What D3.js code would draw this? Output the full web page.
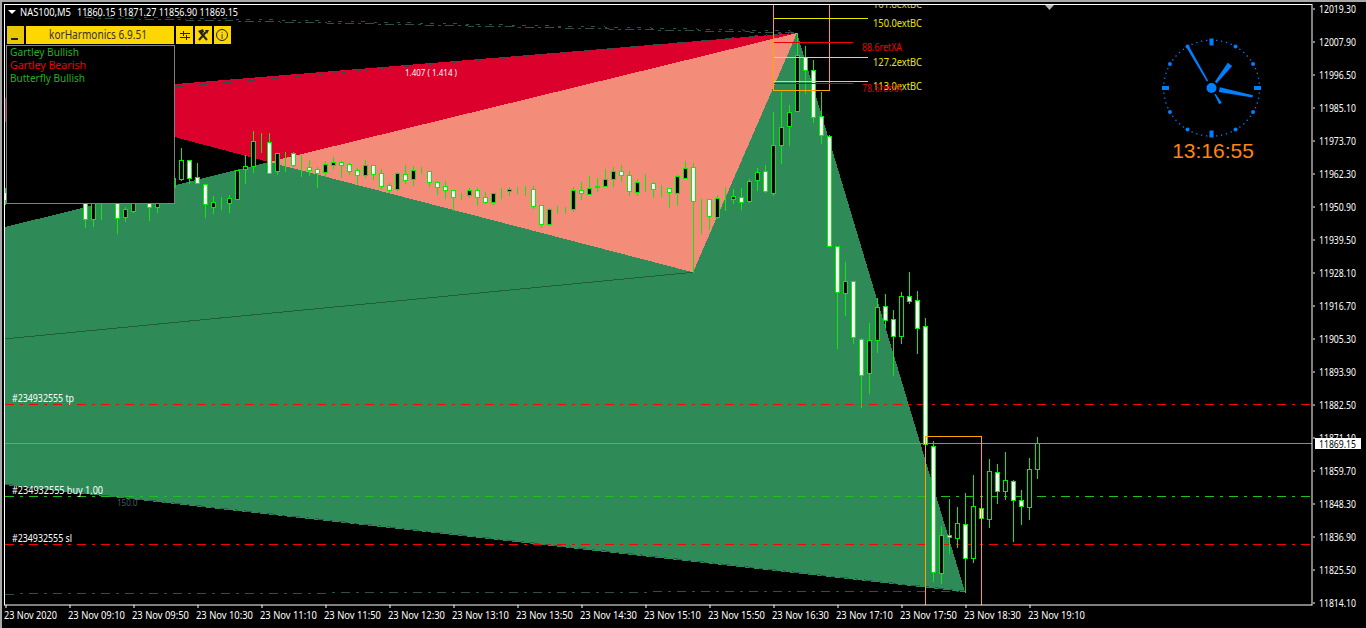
<!DOCTYPE html>
<html><head><meta charset="utf-8">
<script src="https://cdn.jsdelivr.net/npm/d3@7"></script>
<style>html,body{margin:0;padding:0;background:#000;overflow:hidden}svg{display:block}text{font-family:"Noto Sans","DejaVu Sans",sans-serif}</style>
</head><body><svg id="c" width="1366" height="628"></svg>
<script>
const opens=[11955.73,11958.15,11962.64,11956.42,11960.57,11957.81,11961.26,11957.11,11959.88,11954.7,11956.42,11946.41,11956.42,11953.66,11952.97,11947.1,11949.17,11956.42,11953.66,11950.55,11958.15,11957.46,11960.22,11966.79,11960.91,11958.5,11950.55,11952.28,11951.93,11953.31,11963.68,11964.72,11972.66,11973.0,11962.99,11969.2,11969.2,11964.37,11964.37,11963.68,11962.64,11965.06,11966.1,11965.41,11963.33,11961.6,11965.06,11962.3,11958.15,11956.77,11961.95,11960.22,11963.33,11962.99,11959.19,11957.81,11956.42,11954.35,11954.7,11956.42,11954.0,11952.28,11956.08,11956.08,11956.77,11957.11,11956.77,11951.24,11944.68,11949.86,11949.86,11949.86,11956.42,11955.04,11957.46,11957.81,11960.22,11962.99,11961.6,11955.73,11958.84,11958.84,11957.11,11957.11,11955.39,11960.57,11964.37,11953.31,11953.31,11947.1,11953.66,11953.31,11954.0,11952.62,11959.88,11962.99,11955.39,11971.97,11978.53,11983.71,12002.37,11997.88,11981.99,11975.08,11937.08,11920.84,11924.99,11904.95,11893.21,11904.61,11916.35,11911.86,11906.0,11919.81,11918.42,11909.44,11867.99,11824.11,11837.24,11836.21,11841.04,11829.29,11846.57,11842.77,11859.01,11852.44,11855.9,11849.33,11846.91,11860.15];
const closes=[11952.97,11961.6,11958.15,11959.88,11956.42,11961.26,11958.15,11959.88,11956.42,11958.15,11946.41,11954.7,11953.66,11956.42,11946.75,11949.86,11953.66,11953.66,11950.55,11952.97,11954.7,11960.57,11966.79,11960.57,11958.84,11951.59,11952.28,11952.28,11953.66,11963.33,11964.72,11973.35,11972.66,11962.3,11969.2,11969.2,11965.06,11964.37,11963.33,11962.3,11965.41,11966.1,11965.06,11962.99,11961.6,11965.06,11961.95,11957.81,11956.42,11962.3,11959.88,11963.33,11963.33,11959.19,11957.46,11956.42,11954.0,11954.35,11956.42,11954.0,11952.28,11955.39,11956.08,11956.77,11956.77,11957.11,11950.9,11944.68,11949.86,11949.86,11949.86,11956.42,11955.39,11957.11,11957.81,11960.22,11962.99,11961.6,11956.08,11959.19,11958.84,11956.77,11957.11,11955.73,11961.26,11964.02,11952.62,11953.31,11947.44,11953.66,11953.66,11954.35,11952.28,11959.53,11962.64,11956.08,11971.97,11978.19,11983.37,12003.06,11997.88,11981.64,11975.42,11937.08,11921.19,11924.99,11905.65,11892.51,11904.61,11916.01,11911.52,11906.0,11919.81,11918.08,11908.75,11868.68,11824.46,11837.24,11836.55,11841.39,11829.29,11847.26,11843.11,11859.35,11852.44,11856.24,11849.33,11847.26,11860.05,11869.15];
const highs=[11957.11,11963.33,11963.33,11961.6,11962.64,11963.33,11963.33,11961.6,11961.26,11959.88,11959.88,11956.42,11958.15,11958.15,11956.42,11950.55,11956.42,11958.15,11956.42,11954.7,11959.88,11961.6,11970.93,11966.79,11965.75,11958.5,11954.35,11954.0,11954.7,11963.33,11968.51,11976.81,11976.12,11976.12,11969.2,11969.55,11969.55,11968.51,11966.79,11964.37,11966.44,11967.82,11966.44,11965.75,11964.02,11966.79,11965.06,11963.68,11958.84,11962.64,11965.06,11964.72,11964.37,11962.99,11959.53,11959.53,11956.42,11955.39,11957.11,11957.11,11955.73,11955.39,11957.11,11957.46,11957.46,11957.81,11957.81,11951.24,11950.21,11950.9,11950.55,11957.46,11959.19,11961.26,11960.57,11963.68,11964.37,11965.06,11962.99,11960.22,11961.95,11959.19,11958.15,11957.11,11961.6,11966.44,11965.75,11953.31,11953.31,11954.7,11957.46,11956.77,11957.11,11960.22,11964.02,11965.06,11983.37,11990.28,11985.79,12010.66,12006.17,12001.33,11990.28,11975.42,11937.08,11931.55,11924.99,11905.3,11910.48,11919.12,11920.5,11914.97,11921.19,11928.0,11921.53,11912.2,11869.72,11840.35,11849.68,11846.91,11851.75,11857.97,11846.57,11863.5,11861.77,11865.92,11856.24,11852.79,11863.85,11871.27];
const lows=[11951.59,11954.7,11956.42,11952.97,11954.7,11954.7,11955.73,11953.66,11952.97,11952.97,11943.64,11943.99,11946.41,11952.28,11941.57,11945.72,11948.83,11951.93,11946.06,11948.83,11952.97,11956.42,11959.88,11958.84,11958.84,11947.1,11948.48,11949.86,11948.83,11953.31,11958.84,11962.64,11969.55,11962.3,11961.95,11962.99,11964.72,11961.26,11961.6,11957.46,11961.26,11964.02,11960.91,11961.95,11958.84,11960.91,11960.22,11957.11,11955.73,11956.42,11958.84,11958.15,11962.3,11957.81,11955.04,11953.66,11949.52,11953.31,11954.0,11951.24,11951.93,11951.59,11953.66,11954.7,11955.39,11954.7,11950.21,11943.64,11944.33,11948.48,11948.48,11949.17,11953.31,11955.04,11956.08,11957.81,11957.81,11959.53,11954.7,11954.7,11956.08,11953.96,11954.35,11950.55,11951.24,11960.57,11928.0,11941.57,11942.95,11946.75,11949.52,11951.93,11949.86,11952.28,11956.42,11955.73,11954.7,11965.75,11971.97,11983.71,11989.93,11979.91,11972.66,11937.08,11901.85,11913.24,11903.57,11881.46,11886.3,11900.46,11909.1,11892.51,11903.57,11917.39,11900.12,11868.68,11821.35,11820.66,11831.02,11833.1,11817.55,11827.91,11843.11,11840.01,11848.3,11849.68,11835.17,11841.04,11842.77,11856.90];

const yTicks=[12019.30,12007.90,11996.50,11985.10,11973.70,11962.30,11950.90,11939.50,11928.10,11916.70,11905.30,11893.90,11882.50,11871.10,11859.70,11848.30,11836.90,11825.50,11814.10];
const xTickBars=[0,8,16,24,32,40,48,56,64,72,80,88,96,104,112,120,128];
const xTickLabels=["23 Nov 2020","23 Nov 09:10","23 Nov 09:50","23 Nov 10:30","23 Nov 11:10","23 Nov 11:50","23 Nov 12:30","23 Nov 13:10","23 Nov 13:50","23 Nov 14:30","23 Nov 15:10","23 Nov 15:50","23 Nov 16:30","23 Nov 17:10","23 Nov 17:50","23 Nov 18:30","23 Nov 19:10"];

const greenBars=[0,33,86,99,120,120,0], greenPrices=[11943.64,11966.10,11928.0,12010.66,11817.55,11817.55,11854.5];
const redBars=[0,99,33,21.25,0], redPrices=[11988.2,12010.66,11966.10,11974.7,11979.9];
const salmonBars=[33,99,86], salmonPrices=[11966.10,12010.66,11928.0];
const orderLabels=["#234932555 tp","#234932555 buy 1.00","#234932555 sl"];
const orderPrices=[11882.50,11850.74,11834.17];
const orderColors=["#ff0000","#20c020","#ff0000"];
const fibNames=["161.8extBC","150.0extBC","88.6retXA","127.2extBC","113.0extBC","78.6retXA"];
const fibPrices=[12022.4,12015.84,12007.55,12002.37,11994.08,11993.39];
const fibColors=["#d8d800","#e8e800","#f00000","#e8e800","#e8e800","#d00000"];
const legendNames=["Gartley Bullish","Gartley Bearish","Butterfly Bullish"];
const legendColors=["#24b024","#f00000","#24b024"];
const clockTime=[13,16,55];

const svg=d3.select("#c");
const x=d3.scaleLinear().domain([0,129]).range([5,1037]);
const y=d3.scaleLinear().domain([11814.10,12019.30]).range([602,8]);
const X=i=>Math.round(x(i)), Y=p=>Math.round(y(p));
const font="'Noto Sans','DejaVu Sans',sans-serif";

svg.append("rect").attr("width",1366).attr("height",2).attr("fill","#a8a8a8");
svg.append("rect").attr("width",2).attr("height",628).attr("fill","#a8a8a8");

svg.append("defs").append("clipPath").attr("id","plot").append("rect").attr("x",5).attr("y",5).attr("width",1307).attr("height",600);
const plot=svg.append("g").attr("clip-path","url(#plot)");

const poly=(bars,prices,col)=>plot.append("polygon")
  .attr("points",bars.map((b,i)=>x(b)+","+y(prices[i])).join(" "))
  .attr("fill",col).attr("shape-rendering","crispEdges");
poly(redBars,redPrices,"#dc002d");
poly(salmonBars,salmonPrices,"#f48c7a");
poly(greenBars,greenPrices,"#2e8b57");

const trend=(b0,p0,b1,p1,col,dash)=>plot.append("line")
  .attr("x1",x(b0)).attr("y1",y(p0)).attr("x2",x(b1)).attr("y2",y(p1))
  .attr("stroke",col).attr("stroke-width",1).attr("stroke-dasharray",dash).attr("shape-rendering","crispEdges");
trend(0,11905.0,86,11928.0,"#1f5f3c","none");
trend(10,12015.9,99,12010.66,"#2f4f4f","9 4 3 4");
trend(10,12016.6,99,12011.3,"#2f4f4f","4 9 3 7");
trend(21.25,11992.0,99,12010.9,"#2f4f4f","9 6 3 6");
trend(0,11816.85,120,11817.9,"#2f4f4f","9 6 3 6");
trend(0,11854.8,120,11817.9,"#2a5a50","9 6 3 6");

plot.append("line").attr("x1",5).attr("x2",1312).attr("y1",Y(11869.15)+.5).attr("y2",Y(11869.15)+.5).attr("stroke","#8c8c8c");
orderPrices.forEach((p,i)=>{
  plot.append("line").attr("x1",5).attr("x2",1312).attr("y1",Y(p)+.5).attr("y2",Y(p)+.5)
    .attr("stroke",orderColors[i]).attr("stroke-dasharray","9 6 3 6");
  plot.append("text").attr("x",12).attr("y",Y(p)-2).attr("fill","#fff").attr("font-size",11)
    .attr("textLength",[62,91,60][i]).attr("lengthAdjust","spacingAndGlyphs").text(orderLabels[i]);
});

plot.append("text").attr("x",405).attr("y",76).attr("fill","#fff").attr("font-size",8).text("1.407 ( 1.414 )");
plot.append("text").attr("x",117).attr("y",506).attr("fill","#4d5d5d").attr("font-size",8).text("150.0");

const candles=d3.range(opens.length).map(i=>({i,o:opens[i],h:highs[i],l:lows[i],c:closes[i]}));
const cg=plot.append("g").attr("shape-rendering","crispEdges");
cg.selectAll(".w").data(candles).join("line").attr("class","w")
  .attr("x1",d=>X(d.i)+.5).attr("x2",d=>X(d.i)+.5).attr("y1",d=>Y(d.h)).attr("y2",d=>Y(d.l)+1).attr("stroke","#14e614");
cg.selectAll(".b").data(candles).join("rect").attr("class","b")
  .attr("x",d=>X(d.i)-1.5).attr("width",4)
  .attr("y",d=>Math.min(Y(d.o),Y(d.c))+.5)
  .attr("height",d=>Math.abs(Y(d.o)-Y(d.c)))
  .attr("fill",d=>d.c>d.o?"#000":"#fff").attr("stroke","#00f000").attr("stroke-width",1);

const box=(b0,b1,p0,p1)=>plot.append("rect").attr("x",X(b0)+.5).attr("width",X(b1)-X(b0))
  .attr("y",Y(p0)+.5).attr("height",Y(p1)-Y(p0)).attr("fill","none").attr("stroke","#ffa500").attr("stroke-width",1);
box(96,103,12028.0,11991.0);
box(115,122,11871.6,11812.5);
fibNames.forEach((n,i)=>{
  const red=n.includes("ret");
  plot.append("line").attr("x1",774).attr("x2",red?853:868).attr("y1",Y(fibPrices[i])+.5).attr("y2",Y(fibPrices[i])+.5).attr("stroke",fibColors[i]);
  plot.append("text").attr("x",red?862:873).attr("y",Y(fibPrices[i])+9).attr("fill",fibColors[i]).attr("font-size",11)
    .attr("textLength",red?40:49).attr("lengthAdjust","spacingAndGlyphs").text(n);
});
plot.append("path").attr("d",d3.line()([[1045,5],[1054,5],[1049.5,10]])+"Z").attr("fill","#b4b4b4");

svg.append("rect").attr("x",4.5).attr("y",4.5).attr("width",1307.5).attr("height",600.5).attr("fill","none").attr("stroke","#fff");

const yAxis=svg.append("g").attr("transform","translate(1312,0.5)")
  .call(d3.axisRight(y).tickValues(yTicks).tickSize(3).tickFormat(d3.format(".2f")));
yAxis.select(".domain").remove();
yAxis.selectAll("line").attr("stroke","#fff").attr("x1",1);
yAxis.selectAll("text").attr("x",7).attr("fill","#fff").attr("font-size",11).attr("font-family",font)
  .attr("textLength",37).attr("lengthAdjust","spacingAndGlyphs");
const xAxis=svg.append("g").attr("transform","translate(0.5,605)")
  .call(d3.axisBottom(x).tickValues(xTickBars).tickSize(3).tickFormat((d,i)=>xTickLabels[i]));
xAxis.select(".domain").remove();
xAxis.selectAll("line").attr("stroke","#fff");
xAxis.selectAll("text").attr("text-anchor","start").attr("x",-2).attr("y",6).attr("fill","#fff").attr("font-size",11).attr("font-family",font)
  .attr("textLength",(d,i)=>i?57:53).attr("lengthAdjust","spacingAndGlyphs");
svg.append("rect").attr("x",1315).attr("y",438).attr("width",46).attr("height",11).attr("fill","#fff");
svg.append("text").attr("x",1319).attr("y",447.5).attr("fill","#000").attr("font-size",11).attr("textLength",37).attr("lengthAdjust","spacingAndGlyphs").text(d3.format(".2f")(closes[129]));

svg.append("path").attr("d","M8 10H16L12 14Z").attr("fill","#fff");
svg.append("text").attr("x",20).attr("y",16).attr("fill","#fff").attr("font-size",11).attr("textLength",51).attr("lengthAdjust","spacingAndGlyphs").text("NAS100,M5");
svg.append("text").attr("x",77).attr("y",16).attr("fill","#fff").attr("font-size",11).attr("textLength",161).attr("lengthAdjust","spacingAndGlyphs")
  .text([opens[129],highs[129],lows[129],closes[129]].map(d3.format(".2f")).join(" "));

const btn=(x0,w,col)=>svg.append("rect").attr("x",x0).attr("y",26).attr("width",w).attr("height",18).attr("fill",col);
btn(7,17,"#e8c800");btn(26,148,"#ffd700");btn(176,17,"#ffd700");btn(195,17,"#ffd700");btn(214,17,"#ffd700");
svg.append("rect").attr("x",11).attr("y",38).attr("width",7).attr("height",2).attr("fill","#222");
svg.append("text").attr("x",98).attr("y",39).attr("text-anchor","middle").attr("fill","#333").attr("font-size",12)
  .attr("textLength",98).attr("lengthAdjust","spacingAndGlyphs").text("korHarmonics 6.9.51");
svg.append("path").attr("d","M180 33.5H190M180 37.5H190M183.5 31V36M186.5 35V40").attr("stroke","#222").attr("fill","none");
svg.append("path").attr("d","M199 40L206 32M200 32L207 40").attr("stroke","#222").attr("stroke-width",2).attr("fill","none");
svg.append("path").attr("d","M198 31L203 29L204 32L201 34ZM205 30L209 30L207 34Z").attr("fill","#222");
svg.append("circle").attr("cx",222).attr("cy",35).attr("r",5.5).attr("fill","none").attr("stroke","#222");
svg.append("text").attr("x",222).attr("y",38.5).attr("text-anchor","middle").attr("font-size",9).attr("fill","#222").text("i");
svg.append("rect").attr("x",6.5).attr("y",45.5).attr("width",168).attr("height",158).attr("fill","#000").attr("stroke","#808080");
legendNames.forEach((n,i)=>svg.append("text").attr("x",10).attr("y",56+13*i).attr("fill",legendColors[i]).attr("font-size",11.5)
  .attr("textLength",[69,76,75][i]).attr("lengthAdjust","spacingAndGlyphs").text(n));

const cx=1211.5,cy=88,blue="#0080ff";
const clock=svg.append("g").attr("transform",`translate(${cx},${cy})`);
const ang=d3.scaleLinear().domain([0,60]).range([0,2*Math.PI]);
const pt=(a,r)=>[r*Math.sin(a),-r*Math.cos(a)];
d3.range(60).forEach(m=>{
  const p=pt(ang(m),m%15==0?46:48);
  if(m%15==0){const big=m%30==0;clock.append("rect").attr("x",p[0]-(big?2:3.5)).attr("y",p[1]-(big?3.5:2)).attr("width",big?4:7).attr("height",big?7:4).attr("fill",blue);}
  else if(m%5==0){clock.append("circle").attr("cx",p[0]).attr("cy",p[1]).attr("r",2).attr("fill",blue);}
  else clock.append("rect").attr("x",p[0]-.5).attr("y",p[1]-.5).attr("width",1.3).attr("height",1.3).attr("fill",blue);
});
const hand=(a,r0,r1,w0,w1)=>{
  const s=pt(a,r0),e=pt(a,r1),n=[Math.cos(a),Math.sin(a)];
  clock.append("polygon").attr("fill",blue).attr("points",[
    [s[0]-n[0]*w0,s[1]-n[1]*w0],[e[0]-n[0]*w1,e[1]-n[1]*w1],[e[0]+n[0]*w1,e[1]+n[1]*w1],[s[0]+n[0]*w0,s[1]+n[1]*w0]].map(String).join(" "));
};
const [hh,mm,ss]=clockTime;
hand(ang(((hh%12)+mm/60)*5),7,30,1.2,2.8);
hand(ang(mm+ss/60),8,42,2.4,1.2);
hand(ang(ss),8,48,.8,1.4);
hand(ang(ss)+Math.PI,7,18,.6,1.5);
clock.append("circle").attr("r",5).attr("fill",blue);
svg.append("text").attr("x",1213).attr("y",158).attr("text-anchor","middle").attr("fill","#ff8410")
  .attr("style","font-family:'Liberation Sans',sans-serif").attr("font-size",21).text(clockTime.map(d3.format("02d")).join(":"));
</script></body></html>
